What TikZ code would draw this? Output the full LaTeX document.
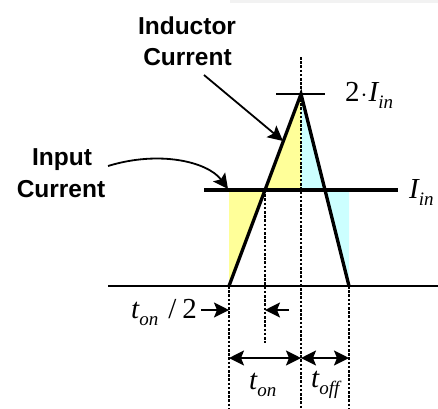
\documentclass[tikz,border=0pt]{standalone}
\usepackage{fontspec}
\usetikzlibrary{arrows.meta}
\newfontfamily\hv{Liberation Sans}
\newfontfamily\tms{Liberation Serif}
\newcommand{\msym}[2]{{\fontsize{29}{29}\selectfont\tms\itshape #1}\raisebox{-7pt}{\fontsize{19}{19}\selectfont\tms\itshape #2}}
\definecolor{ylw}{HTML}{FFFF99}
\definecolor{cyn}{HTML}{CCFFFF}
\tikzset{
  lbl/.style={font=\hv\bfseries\fontsize{24.5}{31}\selectfont, inner sep=0pt, anchor=base},
  mth/.style={inner sep=0pt, anchor=base west},
  wave/.style={line width=3.3pt, line join=miter},
  dots/.style={line width=1.8pt, dash pattern=on 2.6pt off 1.6pt},
  tip/.style={-{Stealth[length=15pt,width=15pt,inset=3pt]}},
  dtip/.style={{Stealth[length=15pt,width=15pt,inset=3pt]}-{Stealth[length=15pt,width=15pt,inset=3pt]}},
  ann/.style={line width=1.8pt},
}
\begin{document}
\begin{tikzpicture}[x=1pt,y=-1pt]
\useasboundingbox (0,0) rectangle (438,408);
\fill[black!5] (230,0) rectangle (438,2.5);
% key points
\coordinate (L) at (229,286);
\coordinate (P) at (301,94);
\coordinate (R) at (349,286);
\coordinate (A) at (265,190);
\coordinate (B) at (325,190);
\coordinate (M) at (301,190);
\coordinate (LI) at (229,190);
\coordinate (RI) at (349,190);
% fills
\fill[ylw] (LI) -- (A) -- (L) -- cycle;
\fill[ylw] (A) -- (P) -- (M) -- cycle;
\fill[cyn] (P) -- (B) -- (M) -- cycle;
\fill[cyn] (B) -- (RI) -- (R) -- cycle;
% dotted lines
\coordinate (d1b) at (229,408);
\coordinate (d2b) at (265,343);
\coordinate (d3t) at (301,57);
\coordinate (d3b) at (301,408);
\coordinate (d4b) at (349,408);
\draw[dots] (L) -- (d1b);
\draw[dots] (A) -- (d2b);
\draw[dots] (d3t) -- (d3b);
\draw[dots] (R) -- (d4b);
% axis and levels
\coordinate (ax0) at (108,286);
\coordinate (ax1) at (438,286);
\draw[line width=2pt] (ax0) -- (ax1);
\coordinate (in0) at (204,190);
\coordinate (in1) at (398,190);
\draw[line width=3.3pt] (in0) -- (in1);
\coordinate (pk0) at (276,94);
\coordinate (pk1) at (325,94);
\draw[line width=2pt] (pk0) -- (pk1);
% triangle waveform
\draw[wave] (L) -- (P) -- (R);
% labels
\node[mth] (pk) at (345,101) {{\fontsize{29}{29}\selectfont\tms 2\hspace{1pt}$\cdot$\hspace{1pt}}\msym{I}{in}};
\node[mth] (iin) at (409,198) {\msym{I}{in}};
\node[lbl] (ind1) at (187,34.3) {Inductor};
\node[lbl] (ind2) at (187.5,65) {Current};
\node[lbl] (inp1) at (62,165.7) {Input};
\node[lbl] (inp2) at (61,197.3) {Current};
% annotation arrows
\coordinate (ia0) at (204,75);
\coordinate (ia1) at (283,141);
\draw[ann,tip] (ia0) -- (ia1);
\coordinate (pa0) at (108,166);
\coordinate (pa1) at (228,189);
\draw[ann,tip] (pa0) .. controls (160,150) and (208,162) .. (pa1);
% t_on/2
\node[mth] (th) at (131,318) {\msym{t}{on}\hspace{10pt}{\fontsize{29}{29}\selectfont\tms /\hspace{6pt}2}};
\coordinate (h0) at (201,310);
\coordinate (h1) at (229,310);
\draw[ann,tip] (h0) -- (h1);
\coordinate (h2) at (289,310);
\coordinate (h3) at (265,310);
\draw[ann,tip] (h2) -- (h3);
% dimension arrows
\coordinate (t0) at (229,358);
\coordinate (t1) at (301,358);
\coordinate (t2) at (349,358);
\draw[ann,dtip] (t0) -- (t1);
\draw[ann,dtip] (t1) -- (t2);
\node[mth] (ton) at (249,389) {\msym{t}{on}};
\node[mth] (toff) at (311,387) {\msym{t}{off}};
\end{tikzpicture}
\end{document}
